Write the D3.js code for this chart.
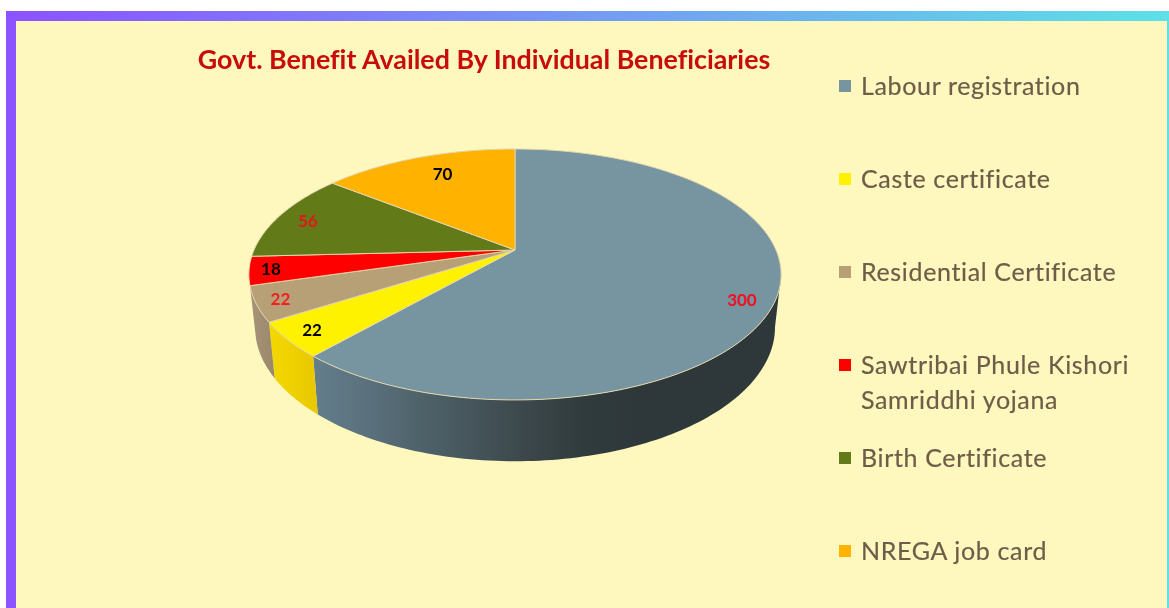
<!DOCTYPE html>
<html>
<head>
<meta charset="utf-8">
<script src="https://cdn.jsdelivr.net/npm/d3@7"></script>
<style>
  html, body { margin: 0; padding: 0; background: #fff; overflow: hidden; }
  svg { display: block; }
  text { font-family: Lato, "Open Sans", sans-serif; font-variant-ligatures: none; }
</style>
</head>
<body>
<script>
const categories = ["Labour registration", "Caste certificate", "Residential Certificate",
  "Sawtribai Phule Kishori Samriddhi yojana", "Birth Certificate", "NREGA job card"];
const values = [300, 22, 22, 18, 56, 70];
const sliceColors = ["#7794a1", "#fff200", "#b79f76", "#ff0000", "#627a18", "#ffb200"];
const labelColors = ["#f01020", "#000", "#f02020", "#000", "#e01818", "#000"];
// where each value label sits on its slice: radius fraction, degrees off the middle
const labelRadius = [0.892, 0.906, 0.914, 0.92, 0.869, 0.784];
const labelShift = [5, 0, 0, 0, -1, 2];
const legendLines = [["Labour registration"], ["Caste certificate"], ["Residential Certificate"],
  ["Sawtribai Phule Kishori", "Samriddhi yojana"], ["Birth Certificate"], ["NREGA job card"]];
const legendY = [86, 179, 272, 365, 458, 551];
// side wall shading, only the slices that show a wall at the front
const wallStops = [
  ["#647e8c", "#5a707c", "#4e626a", "#45545a", "#3a4649", "#303b3d", "#2e383a"],
  ["#f4d800", "#e8c800"],
  ["#a8957a", "#9a8769"]
];

const w = 1169, h = 608;
const svg = d3.select("body").append("svg").attr("width", w).attr("height", h);
const defs = svg.append("defs");

const frame = defs.append("linearGradient").attr("id", "frame");
frame.append("stop").attr("offset", 0).attr("stop-color", "#8c52ff");
frame.append("stop").attr("offset", 1).attr("stop-color", "#5ce1e6");

svg.append("rect").attr("x", 6).attr("y", 11).attr("width", w - 6).attr("height", h)
   .attr("fill", "url(#frame)");
svg.append("rect").attr("x", 16).attr("y", 21).attr("width", 1151).attr("height", h)
   .attr("fill", "#fef8bf");

const chart = svg.append("g").style("filter", "blur(0.45px)");

chart.append("text")
     .attr("x", 484).attr("y", 69)
     .attr("text-anchor", "middle")
     .attr("font-size", 26.8).attr("font-weight", 700)
     .attr("fill", "#c80c0c")
     .text("Govt. Benefit Availed By Individual Beneficiaries");

// pie in perspective: circle is mapped to the screen with a small projective squeeze
const apexX = 515, apexY = 250;
const tilt = -0.195;
const topRim = { a: 261, b: 120.7, y0: apexY };
const lowRim = { a: 255, b: 129, y0: 301 };
const project = (rim, theta, r = 1) => {
  const X = r * Math.sin(theta), Y = -r * Math.cos(theta);
  const den = 1 + tilt * Y;
  return [apexX + rim.a * X / den, rim.y0 + rim.b * Y / den];
};
const arcPoints = (rim, a0, a1) => {
  const n = Math.max(2, Math.ceil((a1 - a0) / 0.02));
  return d3.range(n + 1).map(i => project(rim, a0 + (a1 - a0) * i / n));
};

const pie = d3.pie().sort(null).value(d => d);
const slices = pie(values);
const line = d3.line();

const wallFrom = Math.acos(tilt);   // silhouette on the right
const wallSlices = slices.slice(0, 3);

wallSlices.forEach((s, i) => {
  const a0 = Math.max(s.startAngle, wallFrom);
  const a1 = s.endAngle;
  const top = arcPoints(topRim, a0, a1);
  const low = arcPoints(lowRim, a0, a1).reverse();
  const xs = top.concat(low).map(p => p[0]);
  const g = defs.append("linearGradient")
    .attr("id", "wall" + i)
    .attr("gradientUnits", "userSpaceOnUse")
    .attr("x1", d3.min(xs)).attr("x2", i === 0 ? 640 : d3.max(xs))
    .attr("y1", 0).attr("y2", 0);
  wallStops[i].forEach((c, j) => {
    g.append("stop").attr("offset", j / (wallStops[i].length - 1)).attr("stop-color", c);
  });
  chart.append("path")
       .attr("d", line(top.concat(low)) + "Z")
       .attr("fill", `url(#wall${i})`);
});

chart.selectAll("path.slice")
     .data(slices)
     .enter()
     .append("path")
     .attr("class", "slice")
     .attr("d", d => line([[apexX, apexY]].concat(arcPoints(topRim, d.startAngle, d.endAngle))) + "Z")
     .attr("fill", (d, i) => sliceColors[i])
     .attr("stroke", "#e2d6ac")
     .attr("stroke-width", 1)
     .attr("stroke-linejoin", "round");

chart.selectAll("text.value")
     .data(slices)
     .enter()
     .append("text")
     .attr("class", "value")
     .each(function (d, i) {
       const mid = (d.startAngle + d.endAngle) / 2 + labelShift[i] * Math.PI / 180;
       const p = project(topRim, mid, labelRadius[i]);
       d3.select(this).attr("x", p[0]).attr("y", p[1] + 6);
     })
     .attr("text-anchor", "middle")
     .attr("font-size", 17).attr("font-weight", 700)
     .attr("fill", (d, i) => labelColors[i])
     .text(d => d.value);

const legend = chart.append("g");
categories.forEach((c, i) => {
  legend.append("rect")
        .attr("x", 839).attr("y", legendY[i] - 6)
        .attr("width", 12).attr("height", 12)
        .attr("fill", sliceColors[i]);
  legendLines[i].forEach((t, j) => {
    legend.append("text")
          .attr("x", 861).attr("y", legendY[i] + 9 + j * 35)
          .attr("font-size", 25)
          .attr("letter-spacing", 0.65)
          .attr("fill", "#6f5c48")
          .attr("stroke", "#6f5c48")
          .attr("stroke-width", 0.2)
          .text(t);
  });
});
</script>
</body>
</html>
